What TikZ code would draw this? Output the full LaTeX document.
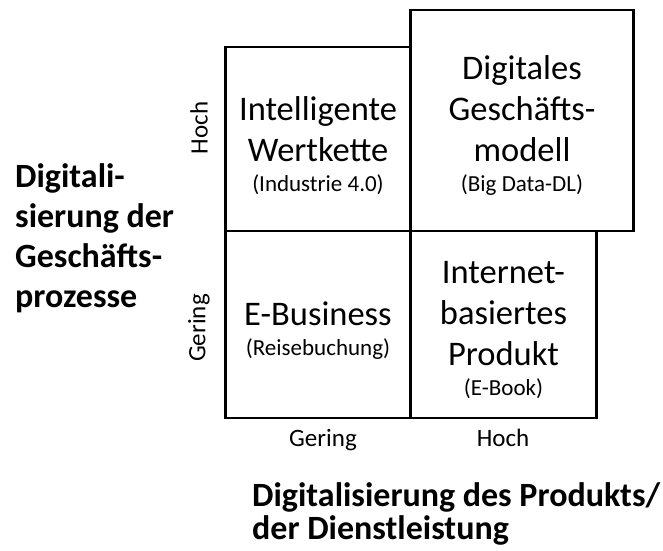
\documentclass[tikz,border=0pt]{standalone}
\usepackage{fontspec}
\setmainfont{Carlito}
\usetikzlibrary{positioning}

\begin{document}
\begin{tikzpicture}[x=1pt,y=-1pt,
		feld/.style={draw,line width=2.6pt,outer sep=0pt,inner sep=0pt},
		inhalt/.style={align=center,inner sep=0pt,font=\fontsize{34.5}{41}\selectfont},
		achse/.style={font=\fontsize{25}{28}\selectfont,inner sep=0pt},
		titel/.style={font=\fontsize{34}{40}\selectfont\bfseries,align=left,inner sep=0pt}]
		\useasboundingbox (0,0) rectangle (663,550);
		\newcommand{\bsp}[1]{{\fontsize{23}{26}\selectfont #1}}
		
		% Felder
		\node[feld, minimum width=185pt, minimum height=184pt] (wert) at (318,139) {};
		\node[feld, minimum width=185pt, minimum height=187pt, below=0pt of wert] (ebiz) {};
		\node[feld, minimum width=186pt, minimum height=187pt, right=0pt of ebiz] (prod) {};
		\node[feld, minimum width=223pt, minimum height=221pt, anchor=south west] (modell) at (wert.south east) {};
		
		\node[inhalt, yshift=-7pt] (wertT) at (wert)
		{Intelligente\\Wertkette\\[-11pt]\bsp{(Industrie 4.0)}};
		\node[inhalt, yshift=-6pt] (ebizT) at (ebiz)
		{E-Business\\[-11pt]\bsp{(Reisebuchung)}};
		\node[inhalt, yshift=-6pt] (prodT) at (prod)
		{Internet-\\basiertes\\Produkt\\[-11pt]\bsp{(E-Book)}};
		\node[inhalt, yshift=-5pt] (modellT) at (modell)
		{Digitales\\Geschäfts-\\modell\\[-11pt]\bsp{(Big Data-DL)}};
		
		% Achsen
		\node[achse, rotate=90] (yh) at (199,128) {Hoch};
		\node[achse, rotate=90] (yg) at (199,328) {Gering};
		\node[achse, anchor=base] (xg) at (323,446) {Gering};
		\node[achse, anchor=base] (xh) at (503,446) {Hoch};
		
		\node[titel, anchor=north west, font=\fontsize{34}{33}\selectfont\bfseries] (xlabel) at (252,482)
		{Digitalisierung des Produkts/\\der Dienstleistung};
		\node[titel, anchor=west] (ylabel) at (15,238)
		{Digitali-\\sierung der\\Geschäfts-\\prozesse};
\end{tikzpicture}
\end{document}
